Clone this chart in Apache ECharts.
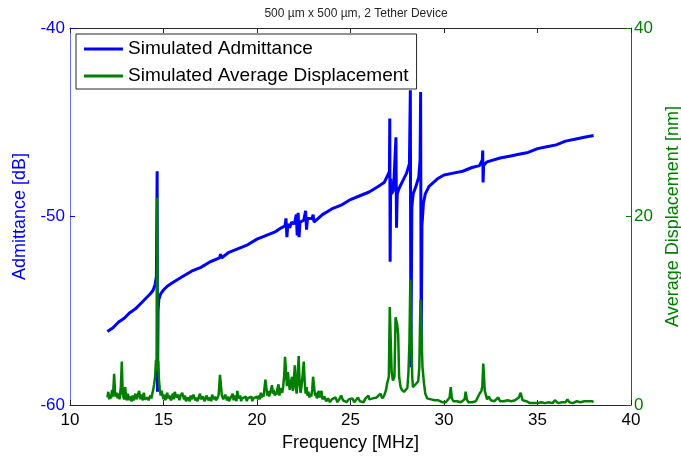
<!DOCTYPE html>
<html>
<head>
<meta charset="utf-8">
<script src="https://cdn.jsdelivr.net/npm/echarts@6/dist/echarts.min.js"></script>
<style>html,body{margin:0;padding:0;background:#fff;}#c{width:681px;height:457px;}</style>
</head>
<body>
<div id="c"></div>
<script>
const titleText = '500 \u00b5m x 500 \u00b5m, 2 Tether Device';
const seriesNames = ['Simulated Admittance', 'Simulated Average Displacement'];
const xTicks = [10, 15, 20, 25, 30, 35, 40];
const leftTicks = [-60, -50, -40];
const rightTicks = [0, 20, 40];

const admFreq = [12.0,12.3,12.6,12.9,13.2,13.5,13.8,14.1,14.3,14.45,
  14.55,14.62,14.66,14.68,14.71,14.75,14.85,15.0,15.2,15.5,
  16.0,16.5,17.0,17.5,18.0,18.05,18.1,18.5,19.0,19.5,
  20.0,20.5,21.0,21.3,21.5,21.55,21.6,21.65,21.75,21.85,
  22.0,22.1,22.15,22.2,22.25,22.3,22.5,22.6,22.65,22.7,
  22.95,23.0,23.05,23.5,24.0,24.5,25.0,25.5,26.0,26.5,
  26.8,27.0,27.08,27.1,27.12,27.15,27.2,27.3,27.43,27.46,
  27.5,27.6,27.8,28.0,28.15,28.2,28.23,28.28,28.35,28.5,
  28.65,28.72,28.75,28.78,28.82,28.9,29.0,29.2,29.65,30.0,
  30.5,31.0,31.5,31.9,32.05,32.07,32.09,32.12,32.3,33.0,
  33.5,34.0,34.5,35.0,35.5,36.0,36.5,37.0,37.5,38.0];
const admDb = [-56.1,-55.9,-55.6,-55.4,-55.1,-54.9,-54.6,-54.3,-54.1,-53.9,
  -53.6,-53.2,-47.6,-59.3,-55.0,-54.4,-54.1,-53.9,-53.7,-53.5,
  -53.2,-52.9,-52.7,-52.4,-52.2,-52.0,-52.2,-51.9,-51.7,-51.5,
  -51.2,-51.0,-50.8,-50.6,-50.5,-50.1,-51.1,-50.4,-50.6,-50.3,
  -50.4,-49.9,-51.0,-49.8,-51.1,-50.3,-50.2,-49.7,-50.7,-50.1,
  -50.1,-49.9,-50.3,-49.9,-49.6,-49.4,-49.1,-48.9,-48.7,-48.4,
  -48.2,-47.8,-47.6,-44.8,-52.4,-48.0,-48.8,-48.6,-45.8,-50.6,
  -48.8,-48.5,-48.1,-47.7,-47.2,-43.3,-58.0,-49.5,-48.8,-48.4,
  -47.9,-47.0,-43.4,-57.0,-50.5,-49.3,-48.8,-48.4,-48.0,-47.8,
  -47.7,-47.6,-47.4,-47.3,-47.0,-46.5,-48.2,-47.3,-47.1,-46.9,
  -46.8,-46.7,-46.6,-46.4,-46.3,-46.2,-46.0,-45.9,-45.8,-45.7];

const dispFreq = [12.0,12.05,12.1,12.15,12.2,12.25,12.3,12.36,12.42,12.5,
  12.55,12.6,12.65,12.72,12.77,12.82,12.9,12.95,13.0,13.05,
  13.1,13.15,13.2,13.3,13.35,13.4,13.5,13.55,13.6,13.7,
  13.75,13.8,13.9,13.95,14.0,14.1,14.15,14.2,14.3,14.35,
  14.4,14.45,14.5,14.55,14.6,14.63,14.66,14.69,14.72,14.76,
  14.8,14.85,14.9,15.0,15.05,15.1,15.2,15.25,15.3,15.4,
  15.5,15.55,15.6,15.7,15.8,15.85,15.9,16.0,16.1,16.15,
  16.2,16.3,16.4,16.45,16.5,16.6,16.7,16.75,16.8,16.9,
  16.95,17.0,17.1,17.2,17.25,17.3,17.4,17.5,17.55,17.6,
  17.7,17.75,17.8,17.9,17.95,18.02,18.07,18.12,18.2,18.3,
  18.4,18.45,18.5,18.6,18.7,18.75,18.8,18.9,18.95,19.0,
  19.1,19.15,19.2,19.3,19.4,19.45,19.5,19.6,19.7,19.75,
  19.8,19.9,20.0,20.05,20.1,20.15,20.2,20.25,20.3,20.35,
  20.4,20.45,20.5,20.55,20.6,20.65,20.7,20.75,20.8,20.85,
  20.9,20.95,21.0,21.05,21.1,21.15,21.2,21.25,21.3,21.35,
  21.4,21.45,21.5,21.55,21.6,21.65,21.7,21.75,21.8,21.87,
  21.92,21.97,22.02,22.07,22.12,22.17,22.23,22.28,22.33,22.38,
  22.44,22.5,22.55,22.6,22.65,22.7,22.75,22.8,22.85,22.9,
  22.95,23.0,23.05,23.1,23.15,23.2,23.25,23.3,23.35,23.4,
  23.45,23.5,23.6,23.7,23.8,23.9,24.0,24.1,24.2,24.3,
  24.4,24.5,24.6,24.7,24.8,24.9,25.0,25.1,25.2,25.3,
  25.4,25.5,25.6,25.7,25.8,25.9,25.96,26.0,26.1,26.2,
  26.3,26.4,26.5,26.6,26.7,26.8,26.9,26.96,27.05,27.1,
  27.13,27.2,27.27,27.35,27.41,27.45,27.5,27.55,27.6,27.68,
  27.75,27.86,27.95,28.04,28.1,28.15,28.2,28.24,28.3,28.34,
  28.42,28.48,28.55,28.62,28.68,28.74,28.78,28.85,28.93,29.0,
  29.1,29.2,29.3,29.4,29.5,29.6,29.7,29.8,29.9,30.0,
  30.1,30.2,30.3,30.36,30.42,30.5,30.6,30.7,30.8,30.9,
  31.0,31.1,31.16,31.22,31.3,31.4,31.5,31.6,31.7,31.8,
  31.9,31.95,32.0,32.05,32.1,32.14,32.18,32.25,32.3,32.4,
  32.5,32.6,32.7,32.8,32.9,33.0,33.1,33.2,33.3,33.4,
  33.5,33.6,33.7,33.8,33.9,34.0,34.1,34.15,34.2,34.3,
  34.4,34.5,34.6,34.7,34.8,34.9,35.0,35.2,35.4,35.6,
  35.8,35.93,36.1,36.3,36.5,36.6,36.7,36.9,37.1,37.3,
  37.5,37.6,37.7,37.8,37.9,38.0];
const dispNm = [0.8,1.4,0.6,1.1,0.7,1.6,0.9,3.3,0.9,1.3,
  0.7,1.2,0.6,2.0,4.6,1.1,0.6,1.9,0.8,0.5,
  1.2,0.5,0.9,0.4,1.0,0.5,1.2,0.6,0.8,1.5,
  0.6,1.1,0.5,1.3,0.6,0.4,0.8,0.5,1.0,0.7,
  1.2,1.6,2.2,3.0,4.8,3.6,22.0,3.8,4.7,2.6,
  1.7,1.0,1.5,0.6,1.1,0.5,1.3,0.7,1.0,0.5,
  1.2,0.6,1.4,0.8,1.1,0.5,0.9,1.3,0.6,1.0,
  0.4,0.8,0.4,1.0,0.6,1.1,0.5,0.8,0.4,0.9,
  1.2,0.6,0.9,0.4,0.7,1.0,0.5,0.8,0.4,1.1,
  0.6,0.9,0.5,0.8,1.1,3.2,3.2,1.0,0.6,1.1,
  0.5,0.9,0.4,0.8,1.2,0.5,1.0,0.4,1.5,0.7,
  1.0,0.4,0.7,0.5,0.9,0.4,0.7,0.5,0.9,0.4,
  0.7,0.5,0.9,0.6,1.0,0.6,1.3,0.8,1.2,0.9,
  1.1,2.7,2.6,1.0,1.5,0.9,1.3,1.6,2.1,1.2,
  1.6,1.0,1.4,1.1,1.8,2.2,1.0,1.5,1.8,1.3,
  2.0,3.0,5.1,4.9,2.0,3.5,2.5,1.6,2.2,3.0,
  1.5,2.5,4.2,2.0,1.2,3.0,5.2,2.2,1.3,2.0,
  3.2,4.6,2.5,1.2,1.9,1.0,1.4,0.8,1.2,0.9,
  1.6,3.0,2.8,1.0,1.3,0.7,1.1,1.5,0.8,1.0,
  1.5,0.6,0.9,0.4,0.7,0.3,0.6,0.4,0.8,0.3,
  0.6,1.0,0.5,0.7,0.3,0.6,0.4,0.7,0.3,0.5,
  0.8,0.4,0.6,0.3,0.7,0.5,1.0,0.6,0.4,0.7,
  0.5,0.8,0.6,1.2,0.7,1.0,1.6,2.3,3.0,10.4,
  10.4,3.5,2.6,3.0,9.3,9.2,8.5,7.5,3.0,1.9,
  1.6,1.4,1.6,1.8,3.5,6.6,13.3,13.3,3.0,1.9,
  2.0,2.2,2.0,2.5,4.0,11.2,11.2,4.0,2.3,1.2,
  0.7,0.5,0.6,0.4,0.5,0.3,0.5,0.4,0.3,0.5,
  0.3,0.4,0.8,1.9,0.7,0.4,0.3,0.4,0.5,0.3,
  0.4,0.6,1.4,0.6,0.3,0.4,0.3,0.5,0.4,0.8,
  1.2,1.0,1.5,2.0,4.4,4.4,1.5,1.0,0.6,0.9,
  0.5,0.7,0.4,0.5,0.8,0.4,0.3,0.4,0.3,0.5,
  0.3,0.4,0.3,0.5,0.6,0.8,1.3,0.9,0.5,0.3,
  0.4,0.3,0.2,0.3,0.2,0.3,0.2,0.3,0.2,0.3,
  0.2,0.5,0.2,0.3,0.3,0.6,0.3,0.2,0.4,0.3,
  0.4,0.2,0.4,0.3,0.4,0.3];

const zip = (xs, ys) => xs.map((x, i) => [x, ys[i]]);
const FONT = 'Liberation Sans, Arial, sans-serif';
const chart = echarts.init(document.getElementById('c'), null, {renderer: 'canvas'});
chart.setOption({
  animation: false,
  backgroundColor: '#ffffff',
  title: {
    text: titleText, left: 351, top: 3, textAlign: 'center',
    textStyle: {fontFamily: 'Liberation Sans Narrow, Liberation Sans, Arial', fontSize: 12, fontWeight: 'normal', color: '#262626'}
  },
  grid: {left: 70, right: 50, top: 28, bottom: 52, containLabel: false, outerBoundsMode: 'none'},
  legend: {
    orient: 'vertical', left: 76, top: 34,
    data: seriesNames,
    icon: 'rect', itemWidth: 39, itemHeight: 3, itemGap: 7,
    padding: [5, 8, 3, 8],
    borderColor: '#262626', borderWidth: 1, backgroundColor: '#ffffff',
    textStyle: {fontFamily: FONT, fontSize: 19, color: '#000', lineHeight: 20}
  },
  xAxis: [{
    type: 'value', min: xTicks[0], max: xTicks[xTicks.length - 1], interval: 5,
    position: 'bottom',
    name: 'Frequency [MHz]', nameLocation: 'middle', nameGap: 23,
    nameTextStyle: {fontFamily: FONT, fontSize: 18, color: '#000'},
    axisLine: {lineStyle: {color: '#262626', width: 1}},
    axisTick: {inside: true, length: 5, lineStyle: {color: '#262626'}},
    axisLabel: {fontFamily: FONT, fontSize: 17, color: '#000', margin: 7},
    splitLine: {show: false}
  }, {
    type: 'value', min: xTicks[0], max: xTicks[xTicks.length - 1], interval: 5,
    position: 'top',
    axisLine: {lineStyle: {color: '#262626', width: 1}},
    axisTick: {inside: true, length: 5, lineStyle: {color: '#262626'}},
    axisLabel: {show: false},
    splitLine: {show: false}
  }],
  yAxis: [{
    type: 'value', min: leftTicks[0], max: leftTicks[leftTicks.length - 1], interval: 10,
    position: 'left',
    name: 'Admittance [dB]', nameLocation: 'middle', nameGap: 37,
    nameTextStyle: {fontFamily: FONT, fontSize: 18, color: '#0000ff'},
    axisLine: {show: true, lineStyle: {color: '#6a6aff', width: 1}},
    axisTick: {show: true, inside: true, length: 5, lineStyle: {color: '#0000ff'}},
    axisLabel: {fontFamily: FONT, fontSize: 17, color: '#0000ff', margin: 5},
    splitLine: {show: false}
  }, {
    type: 'value', min: rightTicks[0], max: rightTicks[rightTicks.length - 1], interval: 20,
    position: 'right',
    name: 'Average Displacement [nm]', nameLocation: 'middle', nameGap: 32,
    nameTextStyle: {fontFamily: FONT, fontSize: 18, color: '#008000'},
    axisLine: {show: true, lineStyle: {color: '#008000', width: 1}},
    axisTick: {show: true, inside: true, length: 5, lineStyle: {color: '#008000'}},
    axisLabel: {fontFamily: FONT, fontSize: 17, color: '#008000', margin: 3},
    splitLine: {show: false}
  }],
  series: [{
    name: seriesNames[0], type: 'line', xAxisIndex: 0, yAxisIndex: 0,
    data: zip(admFreq, admDb), showSymbol: false, symbol: 'none',
    lineStyle: {color: '#0000ff', width: 3}, itemStyle: {color: '#0000ff'},
    clip: true, z: 2
  }, {
    name: seriesNames[1], type: 'line', xAxisIndex: 0, yAxisIndex: 1,
    data: zip(dispFreq, dispNm), showSymbol: false, symbol: 'none',
    lineStyle: {color: '#008000', width: 2.5}, itemStyle: {color: '#008000'},
    clip: true, z: 3
  }]
});
</script>
</body>
</html>
